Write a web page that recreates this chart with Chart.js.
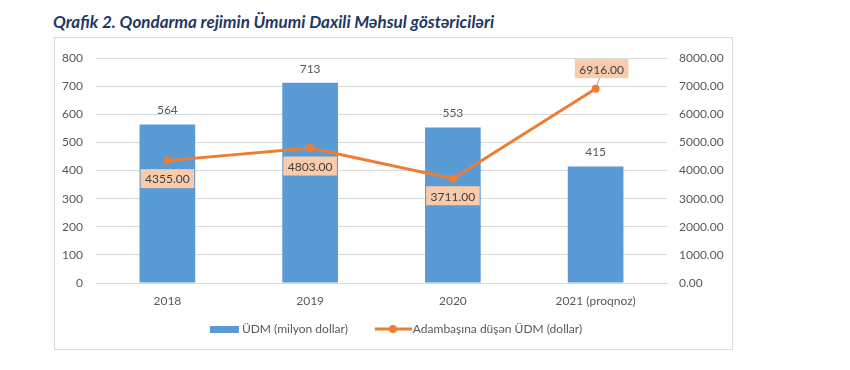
<!DOCTYPE html>
<html>
<head>
<meta charset="utf-8">
<script src="https://cdn.jsdelivr.net/npm/chart.js@4"></script>
<style>
body { margin: 0; background: #fff; width: 850px; height: 370px; position: relative; overflow: hidden; }
#title { position: absolute; left: 53px; top: 11px; font: italic bold 17px Lato; color: #1f3864; white-space: nowrap; }
#box { position: absolute; left: 54px; top: 37px; width: 677px; height: 311px; border: 1px solid #d9d9d9; }
</style>
</head>
<body>
<div id="title">Qrafik 2. Qondarma rejimin Ümumi Daxili Məhsul göstəriciləri</div>
<div id="box"><canvas id="myChart"></canvas></div>
<script>
'use strict';
let years = ['2018', '2019', '2020', '2021 (proqnoz)'];
let gdpValues = [564, 713, 553, 415];
let perCapita = [4355, 4803, 3711, 6916];
let leftTicks = [0, 800, 100];
let rightTicks = [0, 8000, 1000];

let barColor = '#5b9bd5';
let lineColor = '#ed7d31';
let textColor = '#595959';

// where each line label sits relative to its point
let lineLabelOffsets = [[0, 18], [0, 18], [0, 17], [6, -20]];

// legend marks are drawn as small images, content pushed to the right side
function legendBar() {
    let c = document.createElement('canvas');
    c.width = 59; c.height = 7;
    let g = c.getContext('2d');
    g.fillStyle = barColor;
    g.fillRect(28, 0, 29, 7);
    return c;
}

function legendLine() {
    let c = document.createElement('canvas');
    c.width = 59; c.height = 10;
    let g = c.getContext('2d');
    g.strokeStyle = lineColor;
    g.lineWidth = 3;
    g.beginPath();
    g.moveTo(22, 5); g.lineTo(59, 5);
    g.stroke();
    g.fillStyle = lineColor;
    g.beginPath();
    g.arc(40, 5, 4, 0, Math.PI * 2);
    g.fill();
    return c;
}

// the blank left part of the bar image pushes the legend right, move it back
const legendShift = {
    id: 'legendShift',
    afterLayout(chart) {
        chart.legend.left -= 9;
        chart.legend.right -= 9;
    }
};

const valueLabels = {
    id: 'valueLabels',
    afterDatasetsDraw(chart) {
        let ctx = chart.ctx;
        ctx.save();
        ctx.font = '12px Lato';
        ctx.textAlign = 'center';
        ctx.textBaseline = 'middle';
        chart.getDatasetMeta(0).data.forEach((bar, i) => {
            ctx.fillStyle = textColor;
            ctx.fillText(gdpValues[i], bar.x, bar.y - 14);
        });
        chart.getDatasetMeta(1).data.forEach((pt, i) => {
            let off = lineLabelOffsets[i];
            let text = perCapita[i].toFixed(2);
            let w = ctx.measureText(text).width + 9;
            let h = 19;
            let cx = pt.x + off[0];
            let cy = pt.y + off[1];
            if (off[1] < 0) {
                ctx.strokeStyle = '#a6a6a6';
                ctx.lineWidth = 1;
                ctx.beginPath();
                ctx.moveTo(cx - 2, cy + h / 2);
                ctx.lineTo(pt.x + 1, pt.y - 3);
                ctx.stroke();
            }
            ctx.fillStyle = '#f8cbad';
            ctx.fillRect(cx - w / 2, cy - h / 2, w, h);
            ctx.fillStyle = '#404040';
            ctx.fillText(text, cx, cy + 1);
        });
        ctx.restore();
    }
};

let ctx = document.getElementById('myChart').getContext('2d');
let myChart = new Chart(ctx, {
    type: 'bar',
    data: {
        labels: years,
        datasets: [{
            label: 'ÜDM (milyon dollar)',
            data: gdpValues,
            backgroundColor: barColor,
            yAxisID: 'y',
            barPercentage: 0.39,
            categoryPercentage: 1,
            order: 1
        }, {
            type: 'line',
            label: 'Adambaşına düşən ÜDM (dollar)',
            data: perCapita,
            borderColor: lineColor,
            backgroundColor: lineColor,
            borderWidth: 3,
            pointRadius: 4,
            pointBackgroundColor: lineColor,
            pointBorderWidth: 0,
            tension: 0,
            yAxisID: 'y1',
            order: 0
        }]
    },
    options: {
        responsive: true,
        maintainAspectRatio: false,
        animation: false,
        layout: { padding: { top: 15, bottom: 4, left: 0, right: 0 } },
        plugins: {
            tooltip: { enabled: false },
            legend: {
                position: 'bottom',
                labels: {
                    usePointStyle: true,
                    pointStyleWidth: 49,
                    padding: 10,
                    color: textColor,
                    font: { family: 'Lato', size: 12 },
                    generateLabels: () => [
                        { text: 'ÜDM (milyon dollar)', pointStyle: legendBar(), fontColor: textColor, datasetIndex: 0 },
                        { text: 'Adambaşına düşən ÜDM (dollar)', pointStyle: legendLine(), fontColor: textColor, datasetIndex: 1 }
                    ]
                }
            }
        },
        scales: {
            x: {
                grid: { display: false, drawTicks: false },
                border: { display: true, color: '#d9d9d9' },
                ticks: { color: textColor, font: { family: 'Lato', size: 12 }, padding: 11 },
                afterFit: s => { s.height = 30; }
            },
            y: {
                position: 'left',
                min: leftTicks[0],
                max: leftTicks[1],
                ticks: { stepSize: leftTicks[2], color: textColor, font: { family: 'Lato', size: 12 }, padding: 13 },
                grid: { color: '#d9d9d9', drawTicks: false },
                border: { display: false },
                afterFit: s => { s.width = 41; }
            },
            y1: {
                position: 'right',
                min: rightTicks[0],
                max: rightTicks[1],
                ticks: { stepSize: rightTicks[2], color: textColor, font: { family: 'Lato', size: 12 }, padding: 12,
                    callback: v => v.toFixed(2) },
                grid: { display: false, drawTicks: false },
                border: { display: false },
                afterFit: s => { s.width = 65; }
            }
        }
    },
    plugins: [legendShift, valueLabels]
});
</script>
</body>
</html>
